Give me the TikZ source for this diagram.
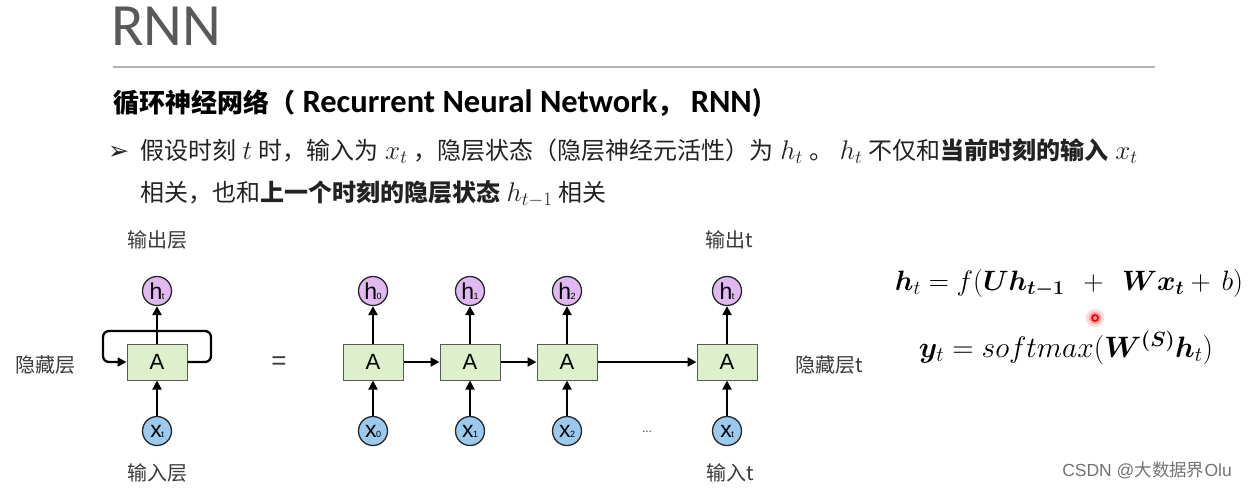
\documentclass[tikz,border=0pt]{standalone}
\usepackage{fix-cm}
\usepackage{amsmath}
\usepackage{bm}
\usepackage{fontspec}
\setmainfont{Carlito}
\newfontfamily\cjk{Noto Sans CJK SC}
\newfontfamily\dejavu{DejaVu Sans}
\newfontfamily\arialf{Liberation Sans}
\usetikzlibrary{arrows.meta}
\definecolor{boxgreen}{HTML}{DDEFCB}
\definecolor{hpurple}{HTML}{E0B9F0}
\definecolor{xblue}{HTML}{9CC9EE}
\definecolor{txt}{HTML}{222222}
\definecolor{lab}{HTML}{3A3A3A}
\newcommand{\hsub}[1]{{\arialf\fontsize{23}{23}\selectfont h\kern-0.5pt\raisebox{0pt}{\fontsize{9}{9}\selectfont #1}}}
\newcommand{\xsub}[1]{{\arialf\fontsize{23}{23}\selectfont x\kern-0.5pt\raisebox{0pt}{\fontsize{9}{9}\selectfont #1}}}
\newcommand{\mth}[1]{\hspace{6.5pt}{\fontsize{27}{28}\selectfont$#1$}\hspace{6.5pt}}
\begin{document}
\begin{tikzpicture}[x=1pt,y=-1pt,
  cell/.style={draw=black!65, fill=boxgreen, minimum width=60pt, minimum height=36pt, line width=1pt, inner sep=0pt, font=\arialf\fontsize{22}{22}\selectfont},
  hcirc/.style={circle, draw=black!85, fill=hpurple, minimum size=29pt, inner sep=0pt, line width=1.3pt},
  xcirc/.style={circle, draw=black!85, fill=xblue, minimum size=29pt, inner sep=0pt, line width=1.3pt},
  arr/.style={line width=2.3pt, -{Triangle[length=9pt,width=9pt]}},
  lbl/.style={font=\cjk\fontsize{20}{20}\selectfont, text=lab, inner sep=0pt},
  body/.style={anchor=base west, inner sep=0pt, text=txt, font=\cjk\fontsize{24}{26}\selectfont},
  eqn/.style={inner sep=0pt, text=black, font=\fontsize{28}{32}\selectfont}
]
\useasboundingbox (0,0) rectangle (1251,491);
\fill[white] (0,0) rectangle (1251,491);

% header
\node[anchor=base west, inner sep=0pt, text=black!65, font=\fontsize{60}{62}\selectfont] (title) at (111,45) {RNN};
\draw[black!30, line width=1.2pt] (113,67) -- (1155,67);
\node[body, font=\cjk\bfseries\fontsize{26}{30}\selectfont, text=black] (head) at (113,112)
  {循环神经网络（{\normalfont\bfseries\fontsize{32.5}{34}\selectfont\ Recurrent Neural Network}，{\normalfont\bfseries\fontsize{32.5}{34}\selectfont\ RNN)}};
\node[anchor=base west, inner sep=0pt, text=txt, font=\dejavu\fontsize{25}{28}\selectfont] (bullet) at (108,159) {➢};
\node[body] (line1) at (140,159)
  {假设时刻\mth{t}时，输入为\mth{x_t}，隐层状态（隐层神经元活性）为\mth{h_t}。\mth{h_t}不仅和{\bfseries 当前时刻的输入}\mth{x_t}};
\node[body] (line2) at (140,201)
  {相关，也和{\bfseries 上一个时刻的隐层状态}\mth{h_{t-1}}相关};

% left folded RNN
\node[cell] (A) at (157,362) {A};
\node[hcirc] (h) at (157,291) {\hsub{t}};
\node[xcirc] (x) at (157,431) {\xsub{t}};
\coordinate (r1) at (211,362);
\coordinate (r2) at (211,331);
\coordinate (l2) at (103,331);
\coordinate (l1) at (103,362);
\draw[arr, rounded corners=6pt] (A.east) -- (r1) -- (r2) -- (l2) -- (l1) -- (A.west);
\draw[arr] (A.north) -- (h.south);
\draw[arr] (x.north) -- (A.south);
\node[lbl] (outL) at (157,240) {输出层};
\node[lbl] (inL) at (157,473) {输入层};
\node[lbl] (hidL) at (46,365) {隐藏层};
\node[inner sep=0pt, font=\arialf\fontsize{26}{26}\selectfont, text=lab] (eq) at (279,363) {=};

% unrolled RNN
\foreach \i/\xx/\s in {0/373/0, 1/470/1, 2/567/2, 3/727/t}{
  \node[cell] (A\i) at (\xx,362) {A};
  \node[hcirc] (h\i) at (\xx,291) {\hsub{\s}};
  \node[xcirc] (x\i) at (\xx,431) {\xsub{\s}};
  \draw[arr] (A\i.north) -- (h\i.south);
  \draw[arr] (x\i.north) -- (A\i.south);
}
\draw[arr] (A0.east) -- (A1.west);
\draw[arr] (A1.east) -- (A2.west);
\draw[arr] (A2.east) -- (A3.west);
\node[inner sep=0pt, font=\arialf\fontsize{12}{12}\selectfont, text=lab] (dots) at (647,432) {...};
\node[lbl] (outT) at (729,240) {输出t};
\node[lbl] (inT) at (730,473) {输入t};
\node[lbl] (hidT) at (829,365) {隐藏层t};

% equations
\node[eqn] (eq1) at (1069,283) {$\bm{h}_t = f(\bm{U}\bm{h}_{\bm{t-1}}\;\,+\;\,\bm{W}\bm{x}_{\bm{t}} + \,b)$};
\node[eqn, font=\fontsize{29.5}{32}\selectfont] (eq2) at (1066,348) {$\bm{y}_t = softmax(\bm{W}^{\bm{(S)}}\bm{h}_t)$};

% laser pointer dot
\fill[red, opacity=0.15] (1095,318) circle (9);
\fill[red, opacity=0.25] (1095,318) circle (6);
\draw[red, line width=1.8pt] (1095,318) circle (3);

% watermark
\node[inner sep=0pt, text=black!55, font=\arialf\fontsize{17.5}{17.5}\selectfont] (wm) at (1147,470)
  {CSDN @{\cjk 大数据界}Olu};
\end{tikzpicture}
\end{document}
